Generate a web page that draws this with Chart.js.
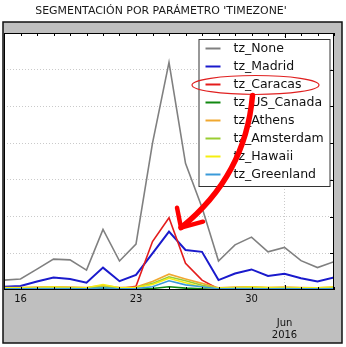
<!DOCTYPE html>
<html><head><meta charset="utf-8">
<script src="https://cdn.jsdelivr.net/npm/chart.js@4.4.1/dist/chart.umd.min.js"></script>
<style>html,body{margin:0;padding:0;background:#fff;}canvas{display:block;}</style>
</head><body>
<canvas id="c" width="346" height="347"></canvas>
<script>
const chartTitle = "SEGMENTACIÓN POR PARÁMETRO 'TIMEZONE'";
const dates = ['2016-05-15','2016-05-16','2016-05-17','2016-05-18','2016-05-19','2016-05-20','2016-05-21',
  '2016-05-22','2016-05-23','2016-05-24','2016-05-25','2016-05-26','2016-05-27','2016-05-28',
  '2016-05-29','2016-05-30','2016-05-31','2016-06-01','2016-06-02','2016-06-03','2016-06-04'];
const seriesNames = ['tz_None','tz_Madrid','tz_Caracas','tz_US_Canada','tz_Athens','tz_Amsterdam','tz_Hawaii','tz_Greenland'];
const tzNone      = [2.7, 3.0, 5.7, 8.4, 8.2, 5.4, 16.5, 7.9, 12.5, 40, 62, 34.5, 22.5, 7.9, 12.3, 14.4, 10.4, 11.6, 8.0, 6.1, 7.7];
const tzMadrid    = [0.9, 1.1, 2.3, 3.4, 3.0, 2.0, 6.1, 2.4, 4.1, 10.0, 15.9, 10.9, 10.4, 2.7, 4.5, 5.6, 3.8, 4.4, 3.2, 2.3, 3.4];
const tzCaracas   = [0, 0, 0, 0, 0, 0, 0, 0.3, 1.0, 13.2, 19.7, 7.3, 2.7, 0.3, 0.2, 0.2, 0.2, 0.2, 0.2, 0.2, 0.2];
const tzUSCanada  = [0.2, 0.2, 0.2, 0.2, 0.2, 0.2, 0.3, 0.2, 0.2, 0.4, 0.9, 0.5, 0.3, 0.2, 0.2, 0.2, 0.2, 0.2, 0.2, 0.2, 0.2];
const tzAthens    = [0.7, 0.7, 0.8, 0.9, 0.8, 0.7, 1.2, 0.7, 0.8, 2.3, 4.3, 3.0, 1.8, 0.6, 0.8, 0.9, 0.7, 0.8, 0.7, 0.6, 0.8];
const tzAmsterdam = [0.5, 0.5, 0.6, 0.7, 0.6, 0.5, 0.9, 0.5, 0.6, 1.8, 3.6, 2.5, 1.3, 0.5, 0.6, 0.7, 0.6, 0.6, 0.5, 0.5, 0.6];
const tzHawaii    = [0.6, 0.6, 0.7, 0.8, 0.7, 0.6, 1.5, 0.6, 0.7, 1.5, 3.2, 2.0, 0.8, 0.5, 0.7, 0.8, 0.7, 0.7, 0.6, 0.6, 0.8];
const tzGreenland = [0.3, 0.3, 0.4, 0.4, 0.4, 0.3, 0.6, 0.3, 0.4, 0.9, 2.5, 1.4, 0.9, 0.3, 0.4, 0.4, 0.3, 0.4, 0.3, 0.3, 0.4];
const seriesValues = [tzNone, tzMadrid, tzCaracas, tzUSCanada, tzAthens, tzAmsterdam, tzHawaii, tzGreenland];
const seriesColors = ['#808080','#1a1acc','#e41c1c','#118811','#f0a830','#9acd32','#f5ee10','#3a9ad9'];
const seriesWidths = [1.6, 2.0, 1.6, 1.6, 1.6, 1.6, 1.6, 1.6];
const dayTickLabels = {'2016-05-16':'16','2016-05-23':'23','2016-05-30':'30'};
const monthTick = {'2016-06-01':['','','Jun','2016']};
const yMax = 70, yStep = 10;
const FONT = 'DejaVu Sans';

const tickIdx = dates.map((d,i)=> (dayTickLabels[d]||monthTick[d]) ? i : -1).filter(i=>i>=0);
const monthIdx = dates.findIndex(d=>monthTick[d]);

const datasets = seriesNames.map((n,i)=>({
  label:n,
  data: seriesValues[i].map((v,j)=>({x:j,y:v})),
  borderColor: seriesColors[i], backgroundColor: seriesColors[i],
  borderWidth: seriesWidths[i], pointRadius:0, tension:0, fill:false,
  order: seriesNames.length - i
}));

const framePlugin = {
  id:'frame',
  beforeDraw(chart){
    const ctx = chart.ctx, a = chart.chartArea;
    ctx.save();
    ctx.fillStyle='#fff'; ctx.fillRect(0,0,chart.width,chart.height);
    ctx.fillStyle='#1a1a1a';
    let fs = 10; ctx.font = fs+'px "'+FONT+'"';
    const w = ctx.measureText(chartTitle).width; fs = fs*252/w;
    ctx.font = fs+'px "'+FONT+'"'; ctx.textAlign='center'; ctx.textBaseline='middle';
    ctx.fillText(chartTitle, 161, 11);
    ctx.fillStyle='#bfbfbf'; ctx.fillRect(3,22,339,321);
    ctx.lineWidth=1.5; ctx.strokeStyle='#111'; ctx.strokeRect(3,22,339,321);
    ctx.fillStyle='#fff'; ctx.fillRect(a.left,a.top,a.right-a.left,a.bottom-a.top);
    ctx.restore();
  },
  afterDatasetsDraw(chart){
    const ctx = chart.ctx, a = chart.chartArea, xs = chart.scales.x, ys = chart.scales.y;
    ctx.save();
    ctx.strokeStyle='#000'; ctx.lineWidth=1;
    ctx.beginPath();
    dates.forEach((d,i)=>{
      const x = Math.round(xs.getPixelForValue(i))+0.5;
      const L = (i===monthIdx)?5:3;
      ctx.moveTo(x,a.bottom); ctx.lineTo(x,a.bottom-L);
      ctx.moveTo(x,a.top); ctx.lineTo(x,a.top+L);
    });
    for(let v=yStep; v<yMax; v+=yStep){
      const y = Math.round(ys.getPixelForValue(v))+0.5;
      ctx.moveTo(a.right,y); ctx.lineTo(a.right-4,y);
    }
    ctx.stroke();
    ctx.strokeRect(a.left+0.5,a.top+0.5,a.right-a.left-1,a.bottom-a.top-1);
    // legend
    const bx = a.right-135.5, by = a.top+6, bw=131, bh=147;
    ctx.fillStyle='#fff'; ctx.fillRect(bx,by,bw,bh);
    ctx.strokeStyle='#333'; ctx.lineWidth=1; ctx.strokeRect(bx+0.5,by+0.5,bw,bh);
    ctx.font='12.5px "'+FONT+'"'; ctx.textBaseline='middle'; ctx.textAlign='left';
    const rows=[];
    chart.data.datasets.forEach((ds,i)=>{
      const ry = by + 9.5 + i*18;
      rows.push(ry);
      ctx.strokeStyle=ds.borderColor; ctx.lineWidth=2;
      ctx.beginPath(); ctx.moveTo(bx+7,ry); ctx.lineTo(bx+22,ry); ctx.stroke();
      ctx.fillStyle='#111'; ctx.fillText(ds.label, bx+35, ry+0.5);
    });
    // annotation: ellipse around Caracas legend entry, arrow to Caracas peak
    const ci = seriesNames.indexOf('tz_Caracas');
    const ecx = bx+57, ecy = rows[ci]+0.5, erx = 63.5, ery = 9.5;
    ctx.strokeStyle='#e02020'; ctx.lineWidth=1.2;
    ctx.beginPath(); ctx.ellipse(ecx,ecy,erx,ery,0,0,Math.PI*2); ctx.stroke();
    const meta = chart.getDatasetMeta(ci);
    let pk = 0; seriesValues[ci].forEach((v,j)=>{ if(v>seriesValues[ci][pk]) pk=j; });
    const p = meta.data[pk];
    const tx = p.x+12, ty = p.y+10;
    const sx = ecx-3, sy = ecy+ery+1;
    ctx.strokeStyle='#ff0000'; ctx.lineCap='round'; ctx.lineJoin='round';
    ctx.lineWidth=5.5;
    ctx.beginPath(); ctx.moveTo(sx,sy); ctx.quadraticCurveTo(sx-7, ty-52, tx, ty); ctx.stroke();
    ctx.lineWidth=4.5;
    ctx.beginPath(); ctx.moveTo(tx-4,ty-20); ctx.lineTo(tx,ty); ctx.lineTo(tx+22,ty-6); ctx.stroke();
    ctx.restore();
  }
};

new Chart(document.getElementById('c'), {
  type:'line',
  data:{datasets},
  options:{
    responsive:false, animation:false, devicePixelRatio:1,
    layout:{padding:{top:33,left:4,right:12,bottom:0}},
    plugins:{legend:{display:false},tooltip:{enabled:false},title:{display:false}},
    scales:{
      x:{type:'linear', min:0, max:dates.length-1,
        afterBuildTicks:s=>{ s.ticks = tickIdx.map(i=>({value:i})); },
        afterFit:s=>{ s.height = 57; },
        ticks:{autoSkip:false, maxRotation:0, padding:3, color:'#111',
          font:{family:FONT,size:10}, lineHeight:1.15,
          callback:v=>{ const d=dates[v]; return monthTick[d] || dayTickLabels[d] || ''; }},
        grid:{drawTicks:false, lineWidth:0.8,
          color:c=> (c.tick && c.tick.value===monthIdx) ? '#bdbdbd' : 'rgba(0,0,0,0)'},
        border:{display:false, dash:[1,2]}
      },
      y:{min:0, max:yMax,
        afterFit:s=>{ s.width = 0; },
        ticks:{display:false, stepSize:yStep},
        grid:{drawTicks:false, lineWidth:0.8,
          color:c=> (c.tick && c.tick.value>0 && c.tick.value<yMax) ? '#bdbdbd' : 'rgba(0,0,0,0)'},
        border:{display:false, dash:[1,2]}
      }
    }
  },
  plugins:[framePlugin]
});
</script>
</body></html>
